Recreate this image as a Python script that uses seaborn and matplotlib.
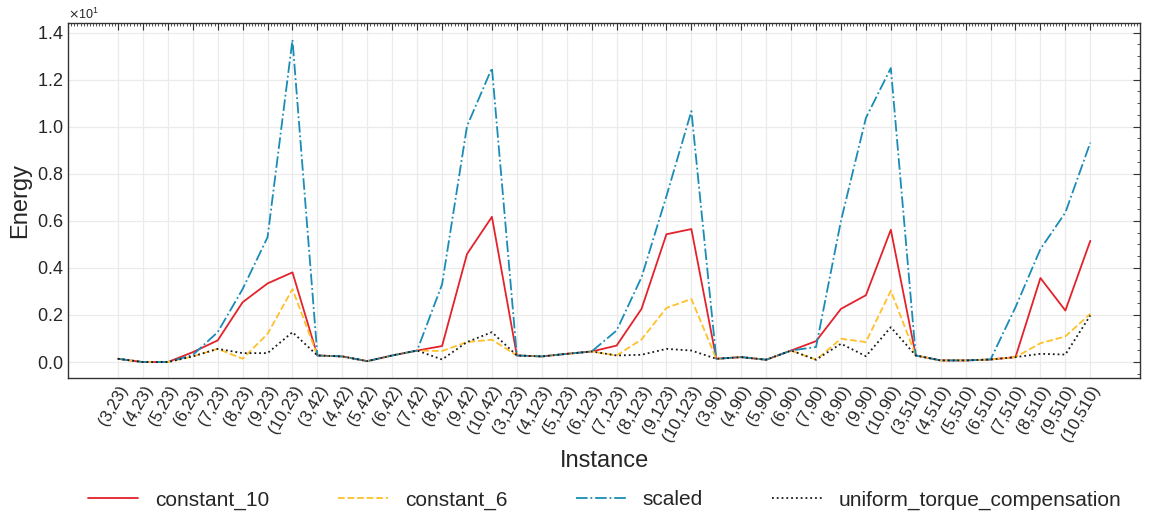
import numpy as np
import pandas as pd
import matplotlib
matplotlib.use("Agg")
import matplotlib.pyplot as plt
from matplotlib.ticker import AutoMinorLocator
import seaborn as sns

# instances (n, m)
n_values = [3, 4, 5, 6, 7, 8, 9, 10]
m_values = [23, 42, 123, 90, 510]
instances = [f"({n},{m})" for m in m_values for n in n_values]

# energy values (x10^1 scale)
constant_10 = [0.14, 0.0, 0.0, 0.42, 0.92, 2.54, 3.34, 3.81,
               0.28, 0.24, 0.04, 0.28, 0.49, 0.68, 4.59, 6.17,
               0.28, 0.24, 0.35, 0.45, 0.70, 2.26, 5.43, 5.65,
               0.14, 0.21, 0.10, 0.49, 0.89, 2.26, 2.84, 5.62,
               0.28, 0.07, 0.07, 0.11, 0.21, 3.57, 2.19, 5.15]
constant_6 = [0.14, 0.0, 0.0, 0.24, 0.56, 0.14, 1.20, 3.10,
              0.28, 0.24, 0.04, 0.28, 0.49, 0.47, 0.85, 0.95,
              0.28, 0.24, 0.35, 0.45, 0.28, 0.96, 2.30, 2.68,
              0.14, 0.21, 0.10, 0.49, 0.10, 0.99, 0.85, 3.03,
              0.28, 0.07, 0.07, 0.11, 0.21, 0.80, 1.09, 2.05]
scaled = [0.14, 0.0, 0.0, 0.30, 1.27, 3.10, 5.30, 13.69,
          0.28, 0.24, 0.04, 0.28, 0.49, 3.30, 10.02, 12.49,
          0.28, 0.24, 0.35, 0.45, 1.34, 3.60, 7.05, 10.66,
          0.14, 0.21, 0.10, 0.49, 0.64, 6.00, 10.37, 12.49,
          0.28, 0.07, 0.07, 0.11, 2.33, 4.80, 6.35, 9.32]
uniform_torque_compensation = [0.14, 0.0, 0.0, 0.24, 0.56, 0.38, 0.38, 1.27,
                               0.28, 0.24, 0.04, 0.28, 0.49, 0.11, 0.85, 1.27,
                               0.28, 0.24, 0.35, 0.45, 0.28, 0.31, 0.56, 0.49,
                               0.14, 0.21, 0.10, 0.49, 0.10, 0.78, 0.25, 1.48,
                               0.28, 0.07, 0.07, 0.11, 0.21, 0.35, 0.32, 1.98]

series = {
    "constant_10": (constant_10, "#e3222b", "-"),
    "constant_6": (constant_6, "#ffc02a", "--"),
    "scaled": (scaled, "#1a8cb5", "-."),
    "uniform_torque_compensation": (uniform_torque_compensation, "#1a1a1a", ":"),
}

sns.set_style("white")
plt.rcParams["font.family"] = ["Liberation Sans", "DejaVu Sans"]

fig, ax = plt.subplots(figsize=(11.54, 5.13), dpi=100)
fig.subplots_adjust(left=0.059, right=0.988, top=0.955, bottom=0.263)

x = np.arange(len(instances))
for name, (vals, color, ls) in series.items():
    sns.lineplot(x=x, y=vals, ax=ax, color=color, linestyle=ls,
                 linewidth=1.3, label=name, legend=False)

ax.set_xticks(x)
ax.set_xticklabels(instances, rotation=60, ha="right", rotation_mode="anchor",
                   fontsize=12, color="#222222")
ax.set_xlim(-2, 41)
ax.set_ylim(-0.68, 14.4)
ax.set_yticks(np.arange(0, 15, 2))
ax.ticklabel_format(axis="y", style="sci", scilimits=(0, 0), useMathText=True)
ax.yaxis.get_offset_text().set_fontsize(9)
ax.tick_params(axis="y", labelsize=13)

ax.xaxis.set_minor_locator(AutoMinorLocator(8))
ax.yaxis.set_minor_locator(AutoMinorLocator(4))
ax.tick_params(which="both", direction="in", top=True, right=True, color="#333333")
ax.tick_params(which="major", length=5, width=0.8)
ax.tick_params(which="minor", length=2.5, width=0.6)
for s in ax.spines.values():
    s.set_color("#333333")
    s.set_linewidth(1.0)

ax.grid(True, which="major", color="#ebebeb", linewidth=0.9)
ax.set_axisbelow(True)

ax.set_xlabel("Instance", fontsize=17)
ax.set_ylabel("Energy", fontsize=17)

handles, labels = ax.get_legend_handles_labels()
fig.legend(handles, labels, loc="lower center", ncol=4, frameon=False,
           fontsize=15, handlelength=2.4, handletextpad=0.8, columnspacing=3.3,
           bbox_to_anchor=(0.524, -0.03))

fig.savefig("out.png", dpi=100)
